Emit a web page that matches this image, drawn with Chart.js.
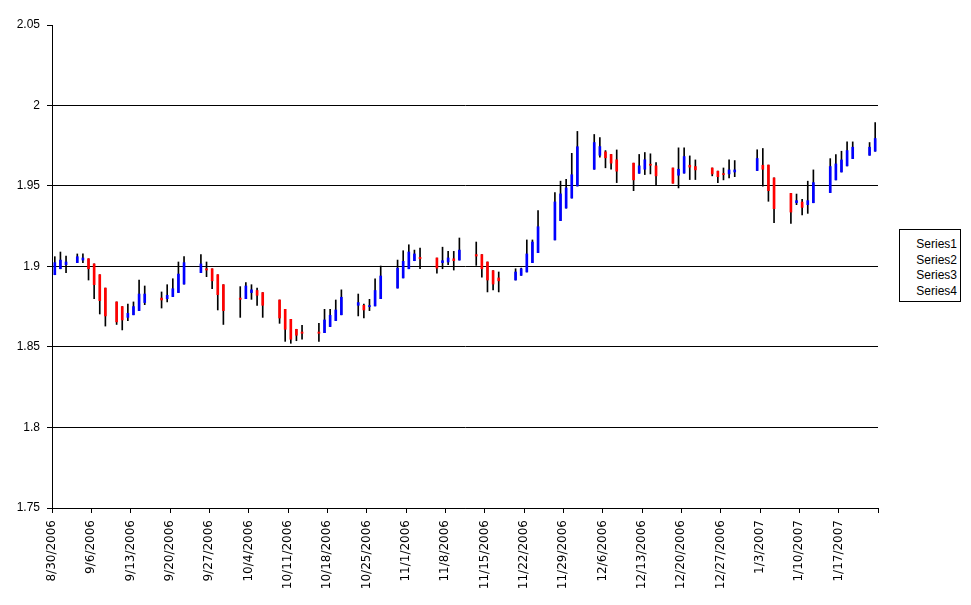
<!DOCTYPE html>
<html>
<head>
<meta charset="utf-8">
<script src="https://cdn.jsdelivr.net/npm/chart.js@4.4.0/dist/chart.umd.min.js"></script>
<style>
  html, body { margin: 0; padding: 0; background: #fff; }
  #wrap { position: relative; width: 971px; height: 605px; }
  #legend {
    position: absolute; left: 899px; top: 229px; width: 62px; height: 73px;
    border: 1px solid #000; box-sizing: border-box; background: #fff;
    font: 12px 'Liberation Sans', Arial, sans-serif; color: #000;
    text-align: right; padding: 7px 3px 0 0; line-height: 15.6px;
  }
</style>
</head>
<body>
<div id="wrap">
  <canvas id="chart" width="971" height="605"></canvas>
  <div id="legend">
    <div>Series1</div><div>Series2</div><div>Series3</div><div>Series4</div>
  </div>
</div>
<script>
// trading days and OHLC values (Series1 = open, Series2 = high, Series3 = low, Series4 = close)
const dates = [
  '2006-08-30','2006-08-31','2006-09-01',
  '2006-09-03','2006-09-04','2006-09-05','2006-09-06','2006-09-07','2006-09-08',
  '2006-09-10','2006-09-11','2006-09-12','2006-09-13','2006-09-14','2006-09-15',
  '2006-09-18','2006-09-19','2006-09-20','2006-09-21','2006-09-22',
  '2006-09-25','2006-09-26','2006-09-27','2006-09-28','2006-09-29',
  '2006-10-02','2006-10-03','2006-10-04','2006-10-05','2006-10-06',
  '2006-10-09','2006-10-10','2006-10-11','2006-10-12','2006-10-13',
  '2006-10-16','2006-10-17','2006-10-18','2006-10-19','2006-10-20',
  '2006-10-23','2006-10-24','2006-10-25','2006-10-26','2006-10-27',
  '2006-10-30','2006-10-31','2006-11-01','2006-11-02','2006-11-03',
  '2006-11-06','2006-11-07','2006-11-08','2006-11-09','2006-11-10',
  '2006-11-13','2006-11-14','2006-11-15','2006-11-16','2006-11-17',
  '2006-11-20','2006-11-21','2006-11-22','2006-11-23','2006-11-24',
  '2006-11-27','2006-11-28','2006-11-29','2006-11-30','2006-12-01',
  '2006-12-04','2006-12-05','2006-12-06','2006-12-07','2006-12-08',
  '2006-12-11','2006-12-12','2006-12-13','2006-12-14','2006-12-15',
  '2006-12-18','2006-12-19','2006-12-20','2006-12-21','2006-12-22',
  '2006-12-25','2006-12-26','2006-12-27','2006-12-28','2006-12-29',
  '2007-01-02','2007-01-03','2007-01-04','2007-01-05',
  '2007-01-08','2007-01-09','2007-01-10','2007-01-11','2007-01-12',
  '2007-01-15','2007-01-16','2007-01-17','2007-01-18','2007-01-19',
  '2007-01-22','2007-01-23'
];
const open = [
  1.8949,1.8986,1.9011,
  1.9024,1.9040,1.9048,1.9016,1.8949,1.8866,
  1.8780,1.8751,1.8684,1.8700,1.8726,1.8776,
  1.8804,1.8800,1.8813,1.8838,1.8891,
  1.8962,1.8986,1.8986,1.8949,1.8887,
  1.8804,1.8800,1.8838,1.8851,1.8838,
  1.8792,1.8734,1.8672,1.8610,1.8593,
  1.8593,1.8589,1.8627,1.8664,1.8700,
  1.8759,1.8759,1.8751,1.8755,1.8800,
  1.8866,1.8929,1.8986,1.9036,1.9057,
  1.9053,1.9024,1.9028,1.9048,1.9040,
  1.9074,1.9074,1.9028,1.8974,1.8929,
  1.8916,1.8945,1.8966,1.9024,1.9086,
  1.9165,1.9285,1.9363,1.9425,1.9500,
  1.9604,1.9691,1.9712,1.9696,1.9663,
  1.9642,1.9579,1.9604,1.9633,1.9625,
  1.9612,1.9567,1.9580,1.9629,1.9621,
  1.9612,1.9592,1.9575,1.9575,1.9587,
  1.9596,1.9629,1.9630,1.9550,
  1.9454,1.9396,1.9400,1.9384,1.9396,
  1.9459,1.9538,1.9587,1.9625,1.9670,
  1.9691,1.9716
];
const high = [
  1.9061,1.9090,1.9065,
  1.9078,1.9078,1.9048,1.9016,1.8949,1.8866,
  1.8780,1.8751,1.8767,1.8780,1.8916,1.8879,
  1.8842,1.8887,1.8924,1.9028,1.9061,
  1.9074,1.9028,1.8986,1.8949,1.8887,
  1.8875,1.8900,1.8887,1.8866,1.8838,
  1.8792,1.8734,1.8672,1.8610,1.8635,
  1.8647,1.8734,1.8734,1.8792,1.8855,
  1.8829,1.8767,1.8796,1.8924,1.9003,
  1.9040,1.9098,1.9135,1.9102,1.9115,
  1.9053,1.9120,1.9094,1.9094,1.9177,
  1.9152,1.9074,1.9028,1.8974,1.8966,
  1.8986,1.8990,1.9165,1.9165,1.9347,
  1.9459,1.9530,1.9542,1.9703,1.9839,
  1.9820,1.9800,1.9720,1.9696,1.9724,
  1.9642,1.9696,1.9708,1.9700,1.9646,
  1.9612,1.9737,1.9737,1.9687,1.9662,
  1.9612,1.9592,1.9612,1.9662,1.9658,
  1.9725,1.9733,1.9630,1.9550,
  1.9454,1.9450,1.9417,1.9530,1.9600,
  1.9670,1.9695,1.9716,1.9774,1.9774,
  1.9770,1.9894
];
const low = [
  1.8949,1.8986,1.8962,
  1.9024,1.9024,1.8916,1.8800,1.8705,1.8630,
  1.8640,1.8606,1.8664,1.8700,1.8726,1.8763,
  1.8742,1.8780,1.8813,1.8838,1.8891,
  1.8962,1.8937,1.8862,1.8730,1.8640,
  1.8684,1.8800,1.8796,1.8759,1.8684,
  1.8647,1.8535,1.8523,1.8539,1.8548,
  1.8535,1.8589,1.8627,1.8664,1.8700,
  1.8693,1.8680,1.8726,1.8755,1.8800,
  1.8866,1.8929,1.8986,1.9036,1.8986,
  1.8958,1.8986,1.9011,1.8978,1.9040,
  1.9007,1.8933,1.8842,1.8854,1.8842,
  1.8916,1.8945,1.8966,1.9024,1.9086,
  1.9165,1.9285,1.9363,1.9425,1.9500,
  1.9604,1.9679,1.9613,1.9604,1.9521,
  1.9471,1.9579,1.9571,1.9575,1.9508,
  1.9517,1.9488,1.9580,1.9540,1.9540,
  1.9563,1.9521,1.9538,1.9550,1.9558,
  1.9596,1.9499,1.9405,1.9272,
  1.9268,1.9384,1.9320,1.9330,1.9396,
  1.9459,1.9538,1.9587,1.9625,1.9670,
  1.9691,1.9716
];
const close = [
  1.9024,1.9040,1.9028,
  1.9061,1.9053,1.8986,1.8887,1.8788,1.8693,
  1.8656,1.8668,1.8709,1.8751,1.8829,1.8829,
  1.8792,1.8821,1.8862,1.8953,1.9024,
  1.9016,1.8978,1.8911,1.8825,1.8726,
  1.8796,1.8879,1.8855,1.8821,1.8759,
  1.8680,1.8610,1.8548,1.8573,1.8585,
  1.8585,1.8668,1.8697,1.8730,1.8809,
  1.8776,1.8730,1.8755,1.8851,1.8941,
  1.8990,1.9032,1.9090,1.9078,1.9048,
  1.8990,1.9036,1.9053,1.9036,1.9102,
  1.9065,1.8986,1.8916,1.8891,1.8911,
  1.8966,1.8986,1.9078,1.9152,1.9247,
  1.9401,1.9451,1.9488,1.9570,1.9744,
  1.9770,1.9745,1.9675,1.9642,1.9592,
  1.9538,1.9625,1.9663,1.9629,1.9563,
  1.9517,1.9604,1.9683,1.9617,1.9600,
  1.9575,1.9558,1.9571,1.9600,1.9600,
  1.9671,1.9604,1.9471,1.9359,
  1.9338,1.9409,1.9367,1.9409,1.9521,
  1.9621,1.9637,1.9662,1.9720,1.9741,
  1.9741,1.9795
];
const xTickLabels = [
  '8/30/2006','9/6/2006','9/13/2006','9/20/2006','9/27/2006','10/4/2006',
  '10/11/2006','10/18/2006','10/25/2006','11/1/2006','11/8/2006','11/15/2006',
  '11/22/2006','11/29/2006','12/6/2006','12/13/2006','12/20/2006','12/27/2006',
  '1/3/2007','1/10/2007','1/17/2007'
];
const yTickLabels = ['1.75','1.8','1.85','1.9','1.95','2','2.05'];

// day number from the first date; each candle sits in the middle of its day slot
const start = Date.parse(dates[0]);
const dayNo = dates.map(d => Math.round((Date.parse(d) - start) / 86400000));

const bodies = dayNo.map((d, i) => ({ x: d + 0.5, y: [open[i], close[i]] }));
const wicks = dayNo.map((d, i) => ({ x: d + 0.5, y: [low[i], high[i]] }));
const bodyColors = open.map((o, i) => close[i] >= o ? '#0000FF' : '#FF0000');

Chart.defaults.font.family = "'Liberation Sans', Arial, sans-serif";
Chart.defaults.font.size = 12;
Chart.defaults.color = '#000';

new Chart(document.getElementById('chart'), {
  type: 'bar',
  data: {
    datasets: [
      {
        label: 'body',
        data: bodies,
        backgroundColor: bodyColors,
        barThickness: 2,
        minBarLength: 1,
        grouped: false,
        order: 0
      },
      {
        label: 'wick',
        data: wicks,
        backgroundColor: '#000',
        barThickness: 1,
        grouped: false,
        order: 1
      }
    ]
  },
  options: {
    responsive: false,
    animation: false,
    layout: { padding: { left: 0, right: 93, top: 25, bottom: 0 } },
    plugins: {
      legend: { display: false },
      tooltip: { enabled: false }
    },
    scales: {
      x: {
        type: 'linear',
        min: 0,
        max: 147,
        offset: false,
        afterFit: function(scale) { scale.height = 97; },
        border: { display: true, color: '#000', width: 1 },
        grid: { offset: false, drawOnChartArea: false, drawTicks: true, tickLength: 5, tickColor: '#000' },
        ticks: {
          stepSize: 7,
          autoSkip: false,
          maxRotation: 90,
          minRotation: 90,
          padding: 7,
          font: { family: "'DejaVu Sans', sans-serif", size: 12 },
          callback: function(value) {
            const label = xTickLabels[value / 7];
            return label === undefined ? '' : label;
          }
        }
      },
      y: {
        type: 'linear',
        min: 1.75,
        max: 2.05,
        afterFit: function(scale) { scale.width = 52; },
        border: { display: true, color: '#000', width: 1 },
        grid: {
          color: function(ctx) { return ctx.index === yTickLabels.length - 1 ? 'rgba(0,0,0,0)' : '#000'; },
          tickColor: '#000',
          tickLength: 5
        },
        ticks: {
          stepSize: 0.05,
          padding: 7,
          callback: function(value, index) { return yTickLabels[index]; }
        }
      }
    }
  }
});
</script>
</body>
</html>
